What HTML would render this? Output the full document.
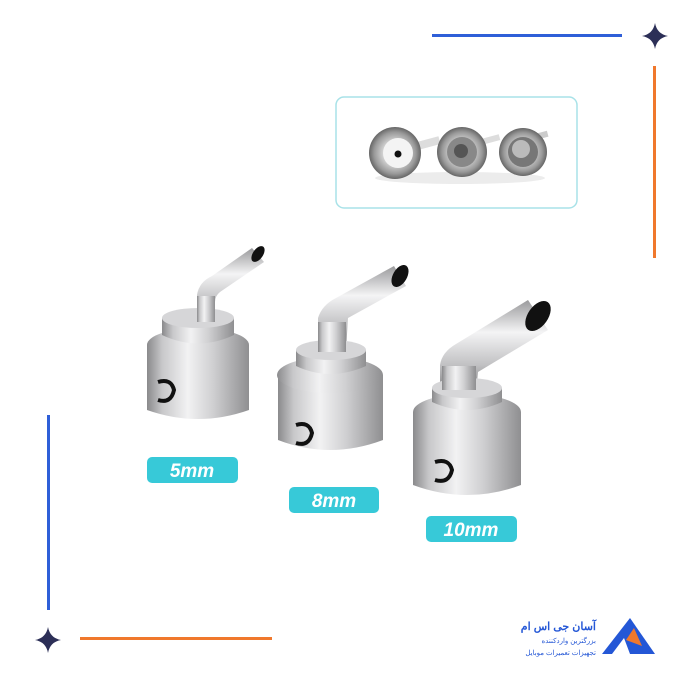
<!DOCTYPE html>
<html><head><style>
html,body{margin:0;padding:0;background:#fff;}
svg{display:block;}
.lb{font-family:"Liberation Sans",sans-serif;font-weight:bold;font-style:italic;fill:#fff;font-size:19px;}
</style></head><body>
<svg width="700" height="700" viewBox="0 0 700 700" xmlns="http://www.w3.org/2000/svg">
<defs>
<linearGradient id="body" x1="0" x2="1" y1="0" y2="0">
<stop offset="0" stop-color="#8a8a8c"/><stop offset="0.15" stop-color="#c8c8ca"/><stop offset="0.4" stop-color="#f2f2f3"/><stop offset="0.65" stop-color="#cfcfd1"/><stop offset="1" stop-color="#8f8f91"/>
</linearGradient>
<linearGradient id="tube" x1="0" x2="0" y1="0" y2="1">
<stop offset="0" stop-color="#9a9a9c"/><stop offset="0.35" stop-color="#f4f4f5"/><stop offset="0.7" stop-color="#c2c2c4"/><stop offset="1" stop-color="#7e7e80"/>
</linearGradient>
<radialGradient id="ring"><stop offset="0.3" stop-color="#eee"/><stop offset="0.8" stop-color="#999"/><stop offset="1" stop-color="#666"/></radialGradient>
<g id="star"><path d="M0 -13 Q2 -2 13 0 Q2 2 0 13 Q-2 2 -13 0 Q-2 -2 0 -13Z" fill="#2c2f57"/></g>
</defs>

<rect x="432" y="34" width="190" height="3" fill="#2f5fd8"/>
<use href="#star" x="655" y="36"/>
<rect x="653" y="66" width="3" height="192" fill="#f0782c"/>
<rect x="47" y="415" width="3" height="195" fill="#2f5fd8"/>
<use href="#star" x="48" y="640"/>
<rect x="80" y="637" width="192" height="3" fill="#f0782c"/>

<rect x="336" y="97" width="241" height="111" rx="8" fill="#fff" stroke="#a8e2e8" stroke-width="1.5"/>
<ellipse cx="460" cy="178" rx="85" ry="6" fill="#ececec"/>
<rect x="410" y="140" width="30" height="8" fill="#ddd" transform="rotate(-15 425 144)"/>
<rect x="470" y="138" width="30" height="6" fill="#ddd" transform="rotate(-15 485 141)"/>
<rect x="530" y="133" width="18" height="6" fill="#ccc" transform="rotate(-15 539 136)"/>
<circle cx="395" cy="153" r="26" fill="url(#ring)"/><circle cx="398" cy="153" r="15" fill="#f4f4f4"/><circle cx="398" cy="154" r="3.5" fill="#111"/>
<circle cx="462" cy="152" r="25" fill="url(#ring)"/><circle cx="462" cy="152" r="15" fill="#888"/><circle cx="461" cy="151" r="7" fill="#555"/>
<circle cx="523" cy="152" r="24" fill="url(#ring)"/><circle cx="523" cy="152" r="15" fill="#777"/><circle cx="521" cy="149" r="9" fill="#bbb"/>

<g>
<path d="M197 322 L197 295 Q199 282 212 276 L252 248 L264 262 L220 292 Q215 296 215 302 L215 322Z" fill="url(#tube)"/>
<ellipse cx="258" cy="254" rx="5" ry="9" transform="rotate(35 258 254)" fill="#111"/>
<path d="M147 345 L147 410 Q198 428 249 410 L249 345Z" fill="url(#body)"/>
<ellipse cx="198" cy="345" rx="51" ry="17" fill="url(#body)"/>
<path d="M162 318 L162 335 Q198 352 234 335 L234 318Z" fill="url(#body)"/>
<ellipse cx="198" cy="318" rx="36" ry="10" fill="#d6d6d8"/>
<path d="M197 322 L197 296 L215 296 L215 322Z" fill="url(#body)"/>
<path d="M158 382 Q171 378 174 390 Q171 404 158 400" fill="none" stroke="#111" stroke-width="4"/>
</g>

<g>
<path d="M318 350 L318 318 Q322 305 336 298 L394 266 L406 286 L348 318 L346 350Z" fill="url(#tube)"/>
<ellipse cx="400" cy="276" rx="7" ry="12" transform="rotate(30 400 276)" fill="#111"/>
<path d="M278 375 L278 440 Q330 460 383 440 L383 375Z" fill="url(#body)"/>
<ellipse cx="330" cy="375" rx="53" ry="18" fill="url(#body)"/>
<path d="M296 350 L296 366 Q330 382 366 366 L366 350Z" fill="url(#body)"/>
<ellipse cx="331" cy="350" rx="35" ry="10" fill="#d6d6d8"/>
<rect x="318" y="322" width="28" height="30" fill="url(#body)"/>
<path d="M296 425 Q309 421 312 433 Q309 447 296 443" fill="none" stroke="#111" stroke-width="4"/>
</g>

<g>
<path d="M440 392 L440 365 Q442 352 456 344 L528 300 L548 330 L478 372 L476 392Z" fill="url(#tube)"/>
<ellipse cx="538" cy="316" rx="10" ry="17" transform="rotate(35 538 316)" fill="#111"/>
<path d="M413 412 L413 485 Q467 505 521 485 L521 412Z" fill="url(#body)"/>
<ellipse cx="467" cy="412" rx="54" ry="18" fill="url(#body)"/>
<path d="M432 388 L432 402 Q467 418 502 402 L502 388Z" fill="url(#body)"/>
<ellipse cx="467" cy="388" rx="35" ry="10" fill="#d6d6d8"/>
<rect x="442" y="366" width="34" height="24" fill="url(#body)"/>
<path d="M435 462 Q449 458 452 470 Q449 484 435 480" fill="none" stroke="#111" stroke-width="4"/>
</g>

<rect x="147" y="457" width="91" height="26" rx="5" fill="#37c9d8"/>
<text x="192" y="477" text-anchor="middle" class="lb">5mm</text>
<rect x="289" y="487" width="90" height="26" rx="5" fill="#37c9d8"/>
<text x="334" y="507" text-anchor="middle" class="lb">8mm</text>
<rect x="426" y="516" width="91" height="26" rx="5" fill="#37c9d8"/>
<text x="471" y="536" text-anchor="middle" class="lb">10mm</text>

<path d="M602 654 L630 618 L655 654Z" fill="#2457d6"/>
<path d="M626 640 L634 628 L642 646Z" fill="#f0782c"/>
<path d="M612 654 L624 638 L630 654Z" fill="#fff"/>
<text x="596" y="630" text-anchor="end" font-family="'Liberation Sans','Noto Sans CJK SC',sans-serif" font-size="11" font-weight="bold" fill="#2457d6">آسان جی اس ام</text>
<text x="596" y="643" text-anchor="end" font-family="'Liberation Sans','Noto Sans CJK SC',sans-serif" font-size="7" fill="#2457d6">بزرگترین واردکننده</text>
<text x="596" y="655" text-anchor="end" font-family="'Liberation Sans','Noto Sans CJK SC',sans-serif" font-size="7" fill="#2457d6">تجهیزات تعمیرات موبایل</text>
</svg>
</body></html>
